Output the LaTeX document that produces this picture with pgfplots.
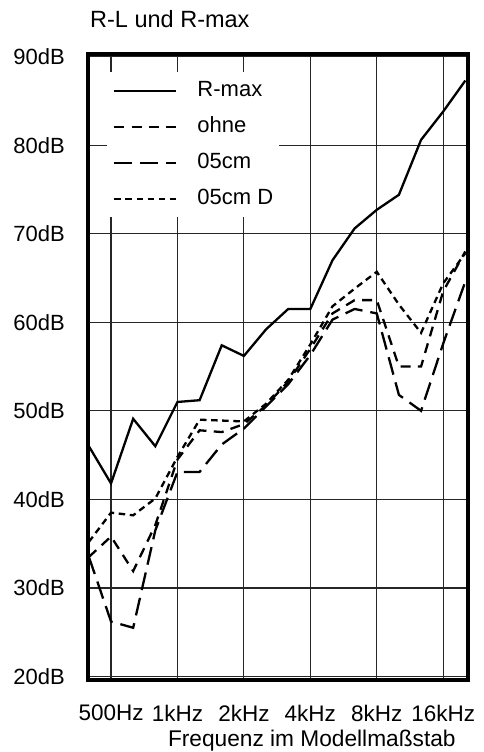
\documentclass[border=0pt]{standalone}
\usepackage{pgfplots}
\pgfplotsset{compat=1.18}
\usepackage{fontspec}
\setmainfont{Liberation Sans}
\begin{document}
\begin{tikzpicture}[font=\fontsize{22}{26}\selectfont]
\begin{axis}[
  scale only axis, width=380pt, height=626pt,
  at={(0pt,0pt)}, anchor=south west,
  xmin=-0.04, xmax=17.12, ymin=19.6, ymax=90.3,
  xtick={1,4,7,10,13,16},
  xticklabels={500Hz,1kHz,2kHz,4kHz,8kHz,16kHz},
  ytick={20,30,40,50,60,70,80,90},
  yticklabels={20dB,30dB,40dB,50dB,60dB,70dB,80dB,90dB},
  major tick length=0pt,
  grid=major,
  major grid style={line width=1.2pt, black!85},
  axis line style={line width=4.5pt},
  xticklabel style={font=\fontsize{22.5}{26}\selectfont, anchor=center, inner sep=0pt, yshift=-33pt},
  yticklabel style={anchor=east, inner sep=0pt, xshift=-23pt},
  /pgf/number format/assume math mode=true,
  title={R-L und R-max},
  title style={font=\fontsize{23.5}{27}\selectfont, at={(rel axis cs:0,1)}, anchor=west, inner sep=0pt, xshift=2pt, yshift=29pt},
  xlabel={Frequenz im Modellmaßstab},
  xlabel style={font=\fontsize{22.7}{27}\selectfont, at={(rel axis cs:0.589,0)}, anchor=center, inner sep=0pt, yshift=-61pt},
  legend image code/.code={\draw[#1] (0pt,0pt) -- (62pt,0pt);},
  legend cell align=left,
  legend style={at={(rel axis cs:0.05,0.971)}, anchor=north west, draw=none, fill=white,
    inner xsep=6pt, inner ysep=8pt, row sep=15pt, column sep=20pt,
    nodes={inner xsep=0pt, inner ysep=0pt, text height=16pt, text depth=5pt}},
]
\addplot[black, solid, line width=2.3pt, no marks] coordinates {(0,46) (1,41.8) (2,49.1) (3,46) (4,51) (5,51.2) (6,57.4) (7,56.2) (8,59.2) (9,61.5) (10,61.5) (11,67) (12,70.6) (13,72.7) (14,74.4) (15,80.6) (16,83.8) (17,87.3)};
\addlegendentry{R-max}
\addplot[black, line width=2.3pt, no marks, dash pattern=on 10pt off 7.3pt] coordinates {(0,33.5) (1,35.8) (2,31.9) (3,37.1) (4,44.5) (5,47.8) (6,47.6) (7,48.5) (8,50.6) (9,53.3) (10,57) (11,61) (12,62.5) (13,62.5) (14,55.0) (15,55.0) (16,63.5) (17,68)};
\addlegendentry{ohne}
\addplot[black, line width=2.3pt, no marks, dash pattern=on 18pt off 8pt] coordinates {(0,33.5) (1,26.2) (2,25.5) (3,36.5) (4,43.1) (5,43.1) (6,46.2) (7,48.0) (8,50.5) (9,53.0) (10,56.3) (11,60.3) (12,61.5) (13,61.0) (14,51.8) (15,50.0) (16,57.6) (17,64.6)};
\addlegendentry{05cm}
\addplot[black, line width=2.3pt, no marks, dash pattern=on 6.5pt off 4.6pt] coordinates {(0,35.2) (1,38.5) (2,38.2) (3,40.1) (4,44.8) (5,49.0) (6,48.9) (7,48.8) (8,50.8) (9,53.5) (10,57.5) (11,61.8) (12,63.8) (13,65.7) (14,62.0) (15,58.8) (16,64.4) (17,67.8)};
\addlegendentry{05cm D}
\end{axis}
\pgfresetboundingbox
\path[use as bounding box] (-88pt,-72pt) rectangle (395pt,680pt);
\end{tikzpicture}
\end{document}
